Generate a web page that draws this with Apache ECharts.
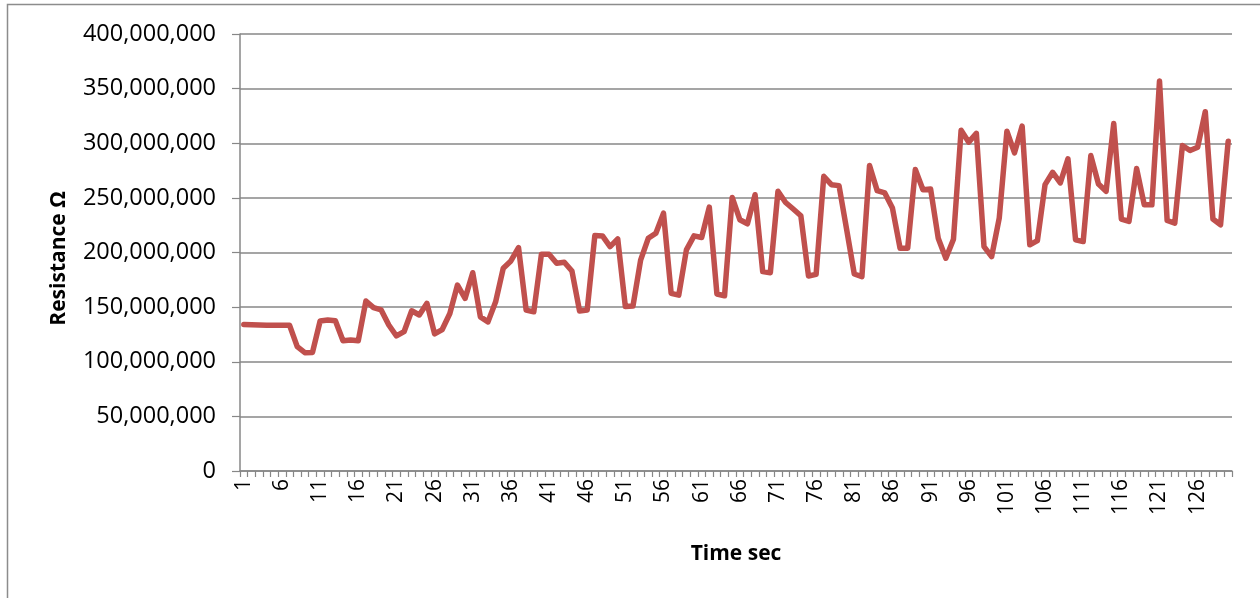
<!DOCTYPE html>
<html>
<head>
<meta charset="utf-8">
<script src="https://cdn.jsdelivr.net/npm/echarts@6/dist/echarts.min.js"></script>
<style>
  html, body { margin: 0; padding: 0; background: #ffffff; }
  #chart { width: 1260px; height: 598px; }
</style>
</head>
<body>
<div id="chart"></div>
<script>
// Time index (seconds) 1..130
const timeSec = [];
for (let t = 1; t <= 130; t++) timeSec.push(String(t));

// Measured resistance, in millions of ohms, one reading per second
const resistanceMOhm = [
  134.0, 133.8, 133.6, 133.5, 133.5, 133.4, 133.3, 113.8, 108.3, 108.5,
  137.3, 138.2, 137.6, 119.3, 119.9, 119.3, 155.6, 149.5, 147.4, 133.6,
  123.6, 127.5, 146.7, 142.8, 153.5, 125.5, 129.5, 144.2, 170.2, 158.0,
  181.5, 141.1, 136.5, 154.9, 185.6, 192.3, 204.5, 147.3, 145.7, 198.4,
  198.4, 190.2, 191.1, 183.1, 146.4, 147.3, 215.5, 215.2, 205.4, 212.5,
  150.5, 151.0, 193.0, 213.0, 217.7, 236.0, 162.6, 161.0, 202.4, 215.2,
  213.7, 241.6, 162.0, 160.4, 250.4, 230.0, 226.3, 252.9, 182.5, 181.5,
  256.0, 245.8, 239.8, 233.6, 178.5, 180.0, 269.7, 262.1, 261.2, 221.0,
  180.3, 177.9, 279.6, 256.6, 254.5, 240.7, 204.0, 204.0, 275.9, 257.5,
  258.2, 213.1, 194.8, 212.2, 312.0, 301.0, 309.0, 205.4, 196.2, 231.5,
  311.0, 291.2, 315.7, 207.0, 210.9, 262.1, 273.4, 263.7, 285.7, 211.6,
  210.0, 288.7, 262.7, 256.0, 318.1, 230.6, 228.4, 276.8, 243.7, 243.7,
  357.0, 229.3, 226.9, 297.9, 293.3, 296.4, 328.9, 230.6, 225.4, 301.9
];

// Value axis ticks (ohms)
const yMin = 0;
const yMax = 400000000;
const yStep = 50000000;

const resistanceOhm = resistanceMOhm.map(v => Math.round(v * 1e6));

const FONT = '"Open Sans", Lato, sans-serif';
const GRID_GRAY = '#878787';

function withCommas(n) {
  return String(Math.round(n)).replace(/\B(?=(\d{3})+(?!\d))/g, ',');
}

const chart = echarts.init(document.getElementById('chart'), null, { renderer: 'canvas' });

chart.setOption({
  backgroundColor: '#ffffff',
  animation: false,
  graphic: [{
    type: 'rect',
    shape: { x: 7.5, y: 4.5, width: 1400, height: 700 },
    style: { fill: 'none', stroke: '#8c8c8c', lineWidth: 1.5 },
    silent: true,
    z: -10
  }],
  grid: { left: 240, right: 28, top: 34, bottom: 127, containLabel: false },
  xAxis: {
    type: 'category',
    data: timeSec,
    boundaryGap: true,
    name: 'Time sec',
    nameLocation: 'middle',
    nameGap: 73,
    nameTextStyle: { fontFamily: FONT, fontSize: 21, fontWeight: 'bold', color: '#000' },
    axisLine: { show: true, lineStyle: { color: GRID_GRAY, width: 1.5 } },
    axisTick: { show: true, interval: 0, alignWithLabel: false, length: 6, lineStyle: { color: GRID_GRAY, width: 1.2 } },
    axisLabel: {
      interval: 4,
      rotate: 90,
      margin: 8,
      fontFamily: FONT,
      fontSize: 21,
      color: '#000'
    },
    splitLine: { show: false }
  },
  yAxis: {
    type: 'value',
    min: yMin,
    max: yMax,
    interval: yStep,
    name: 'Resistance Ω',
    nameLocation: 'middle',
    nameGap: 170,
    nameRotate: 90,
    nameTextStyle: { fontFamily: FONT, fontSize: 21, fontWeight: 'bold', color: '#000', padding: [0, 12, 0, 0] },
    axisLine: { show: true, lineStyle: { color: GRID_GRAY, width: 1.5 } },
    axisTick: { show: true, inside: false, length: 8, lineStyle: { color: GRID_GRAY, width: 1.2 } },
    axisLabel: {
      margin: 24,
      fontFamily: FONT,
      fontSize: 23.5,
      color: '#000',
      formatter: v => withCommas(v)
    },
    splitLine: { show: true, lineStyle: { color: GRID_GRAY, width: 1.5 } }
  },
  series: [{
    type: 'line',
    data: resistanceOhm,
    symbol: 'none',
    smooth: false,
    lineStyle: { color: '#C0504D', width: 5.5, join: 'round', cap: 'round' },
    z: 5
  }]
});
</script>
</body>
</html>
